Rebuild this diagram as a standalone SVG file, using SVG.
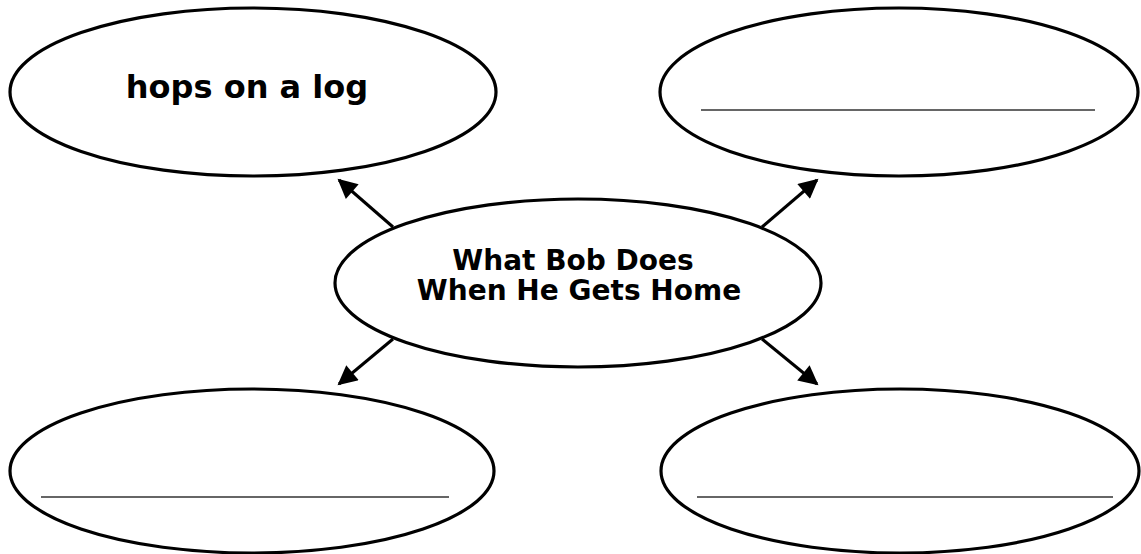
<svg xmlns="http://www.w3.org/2000/svg" width="1141" height="554" viewBox="0 0 1141 554">
<style>
.node ellipse{fill:#fff;stroke:#000;stroke-width:3.2}
.lbl{font-family:"DejaVu Sans",sans-serif;font-weight:bold;fill:#000;text-anchor:middle}
.blank{stroke:#333;stroke-width:1.3}
.blank2{stroke:#666;stroke-width:2}
.conn line{stroke:#000;stroke-width:3}
</style>
<defs>
<marker id="ah" viewBox="0 0 10 10" refX="9" refY="5" markerWidth="7" markerHeight="6.5" markerUnits="strokeWidth" orient="auto">
<path d="M0,0 L10,5 L0,10 z" fill="#000"/>
</marker>
</defs>
<rect width="1141" height="554" fill="#fff"/>
<g id="connectors" class="conn">
<line x1="393" y1="227" x2="339" y2="180" marker-end="url(#ah)"/>
<line x1="762" y1="227" x2="817" y2="180" marker-end="url(#ah)"/>
<line x1="393" y1="339" x2="339" y2="384" marker-end="url(#ah)"/>
<line x1="762" y1="339" x2="817" y2="384" marker-end="url(#ah)"/>
</g>
<g id="node-center" class="node">
<ellipse cx="578" cy="283" rx="243" ry="84"/>
<text class="lbl" x="573" y="270" font-size="28">What Bob Does</text>
<text class="lbl" x="579" y="300" font-size="28">When He Gets Home</text>
</g>
<g id="node-top-left" class="node">
<ellipse cx="253" cy="92" rx="243" ry="84"/>
<text class="lbl" x="247" y="98" font-size="32">hops on a log</text>
</g>
<g id="node-top-right" class="node">
<ellipse cx="899" cy="92" rx="239" ry="84"/>
<line class="blank" x1="701" y1="110" x2="1095" y2="110"/>
</g>
<g id="node-bottom-left" class="node">
<ellipse cx="252" cy="471" rx="242" ry="82"/>
<line class="blank2" x1="41" y1="497" x2="449" y2="497"/>
</g>
<g id="node-bottom-right" class="node">
<ellipse cx="900" cy="471" rx="239" ry="82"/>
<line class="blank2" x1="697" y1="497" x2="1113" y2="497"/>
</g>
</svg>
